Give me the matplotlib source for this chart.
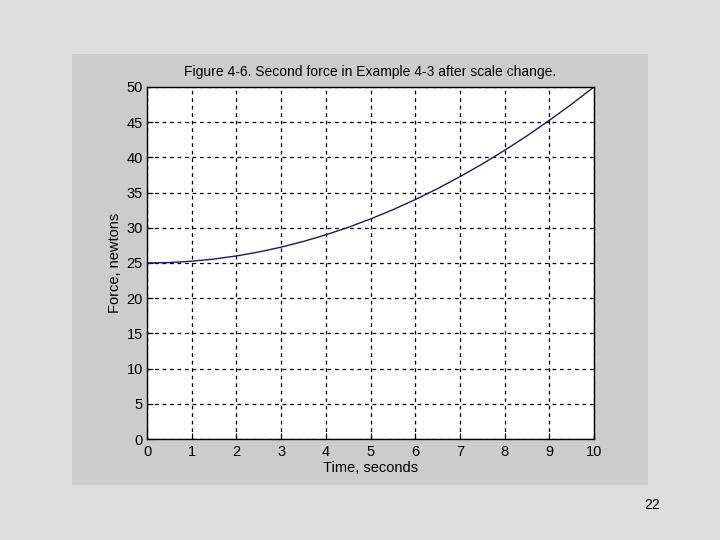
import matplotlib
matplotlib.use("Agg")
import matplotlib.pyplot as plt
from matplotlib.patches import Rectangle

time_s = [0, 0.5, 1, 1.5, 2, 2.5, 3, 3.5, 4, 4.5, 5, 5.5, 6, 6.5, 7, 7.5, 8, 8.5, 9, 9.5, 10]
force_n = [25.0, 25.06, 25.25, 25.56, 26.0, 26.56, 27.25, 28.06, 29.0, 30.06, 31.25,
           32.56, 34.0, 35.56, 37.25, 39.06, 41.0, 43.06, 45.25, 47.56, 50.0]
x_ticks = list(range(0, 11))
y_ticks = list(range(0, 51, 5))
title = "Figure 4-6. Second force in Example 4-3 after scale change."
xlabel = "Time, seconds"
ylabel = "Force, newtons"
page_number = "22"

plt.rcParams['font.family'] = ['Liberation Sans', 'DejaVu Sans']

fig = plt.figure(figsize=(7.2, 5.4), dpi=100)
fig.patch.set_facecolor('#dddddd')
fig.patches.append(Rectangle((0.1, 0.1019), 0.8, 0.798, transform=fig.transFigure,
                             facecolor='#cccccc', edgecolor='none', zorder=-10))

ax = fig.add_axes([0.2042, 0.187, 0.6208, 0.652])
ax.set_zorder(5)
ax.set_facecolor('white')
ax.plot(time_s, force_n, color='#1c1c5e', linewidth=1.0)
ax.set_xlim(0, 10)
ax.set_ylim(0, 50)
ax.set_xticks(x_ticks)
ax.set_yticks(y_ticks)
ax.grid(True, color='black', linestyle=(0, (3, 3)), linewidth=0.9)
ax.tick_params(direction='in', length=4, labelsize=10.5, colors='black')
ax.tick_params(axis='x', pad=4)
ax.tick_params(axis='y', pad=3)
for s in ax.spines.values():
    s.set_linewidth(1.0)
    s.set_color('black')
ax.set_title(title, fontsize=10, pad=8)
ax.set_xlabel(xlabel, fontsize=10.5, labelpad=2)
ax.set_ylabel(ylabel, fontsize=10.5, labelpad=3)

fig.text(0.906, 0.064, page_number, fontsize=10, ha='center', va='center')

fig.savefig("out.png", dpi=100, facecolor=fig.get_facecolor())
